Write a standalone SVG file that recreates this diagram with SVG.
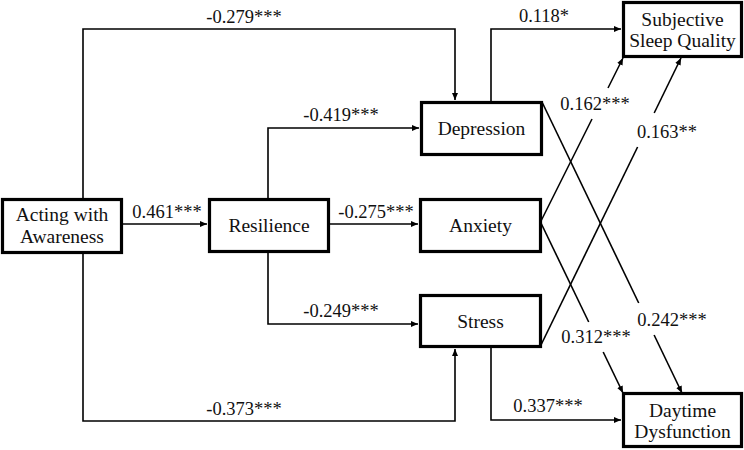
<svg xmlns="http://www.w3.org/2000/svg" width="744" height="450" viewBox="0 0 744 450">
<style>
.box{fill:#fff;stroke:#000;stroke-width:3.2}
.nt{font-family:"Liberation Serif","Times New Roman",serif;font-size:19.5px;fill:#111;text-anchor:middle}
.lb{font-family:"Liberation Serif","Times New Roman",serif;font-size:18.5px;fill:#111;text-anchor:middle}
.ln{fill:none;stroke:#000;stroke-width:1.6}
</style>
<defs>
<marker id="arr" markerUnits="userSpaceOnUse" markerWidth="8" markerHeight="6" refX="7" refY="3" orient="auto">
<path d="M0,0 L7,3 L0,6 Z" fill="#000"/>
</marker>
</defs>
<rect width="744" height="450" fill="#fff"/>
<g id="connectors">
<path class="ln" d="M83,198 V29 H455 V100" marker-end="url(#arr)"/>
<path class="ln" d="M268,198 V128 H419" marker-end="url(#arr)"/>
<path class="ln" d="M122,224 H207" marker-end="url(#arr)"/>
<path class="ln" d="M329,224 H418" marker-end="url(#arr)"/>
<path class="ln" d="M268,253 V324 H418" marker-end="url(#arr)"/>
<path class="ln" d="M83,254 V421 H455 V349" marker-end="url(#arr)"/>
<path class="ln" d="M491,101 V29 H621" marker-end="url(#arr)"/>
<path class="ln" d="M491,348 V420 H621" marker-end="url(#arr)"/>
<path class="ln" d="M541,221 L592,119"/>
<path class="ln" d="M608,88 L623,58" marker-end="url(#arr)"/>
<path class="ln" d="M540,347 L637.6,147"/>
<path class="ln" d="M654.2,113 L681,58" marker-end="url(#arr)"/>
<path class="ln" d="M540,221 L588.7,322"/>
<path class="ln" d="M603.2,352 L623,393" marker-end="url(#arr)"/>
<path class="ln" d="M542,102 L638.7,303"/>
<path class="ln" d="M654.1,335 L682,393" marker-end="url(#arr)"/>
<text class="lb" x="244" y="23">-0.279***</text>
<text class="lb" x="341" y="121">-0.419***</text>
<text class="lb" x="167" y="218">0.461***</text>
<text class="lb" x="376" y="218">-0.275***</text>
<text class="lb" x="341" y="317">-0.249***</text>
<text class="lb" x="244" y="415">-0.373***</text>
<text class="lb" x="544" y="22">0.118*</text>
<text class="lb" x="548" y="412">0.337***</text>
<text class="lb" x="595" y="110">0.162***</text>
<text class="lb" x="667" y="138">0.163**</text>
<text class="lb" x="596" y="343">0.312***</text>
<text class="lb" x="672" y="326">0.242***</text>
</g>
<g id="acting">
<rect class="box" x="2.5" y="199.5" width="119" height="53"/>
<text class="nt" x="62" y="221">Acting with</text>
<text class="nt" x="62" y="243">Awareness</text>
</g>
<g id="resilience">
<rect class="box" x="209.5" y="199.5" width="119" height="52"/>
<text class="nt" x="269" y="232">Resilience</text>
</g>
<g id="depression">
<rect class="box" x="421.5" y="102.5" width="120" height="52"/>
<text class="nt" x="481.5" y="135">Depression</text>
</g>
<g id="anxiety">
<rect class="box" x="420.5" y="199.5" width="120" height="52"/>
<text class="nt" x="480.5" y="232">Anxiety</text>
</g>
<g id="stress">
<rect class="box" x="420.5" y="295.5" width="120" height="51"/>
<text class="nt" x="480.5" y="328">Stress</text>
</g>
<g id="ssq">
<rect class="box" x="623.5" y="2.5" width="118" height="54"/>
<text class="nt" x="682.5" y="26">Subjective</text>
<text class="nt" x="682.5" y="47">Sleep Quality</text>
</g>
<g id="dd">
<rect class="box" x="623.5" y="393.5" width="118" height="53"/>
<text class="nt" x="682.5" y="417">Daytime</text>
<text class="nt" x="682.5" y="438">Dysfunction</text>
</g>
</svg>
